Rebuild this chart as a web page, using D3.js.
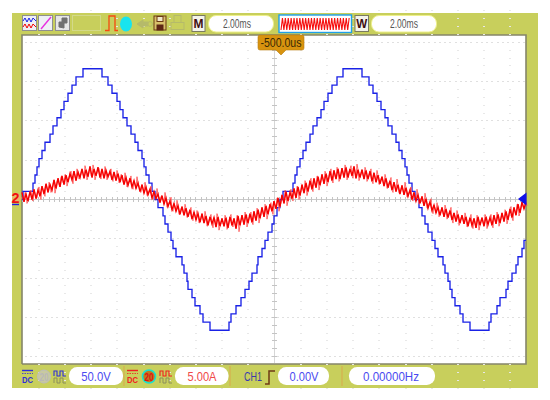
<!DOCTYPE html>
<html><head><meta charset="utf-8">
<script src="https://cdn.jsdelivr.net/npm/d3@7"></script>
<style>html,body{margin:0;padding:0;background:#fff}svg{display:block}text{font-family:"Liberation Sans",Arial,sans-serif}</style>
</head><body><div id="c"></div>
<script>
// Timebase / readout labels
const timebaseLabel = "2.00ms", windowLabel = "2.00ms", triggerOffsetLabel = "-500.0us";
const ch1Scale = "50.0V", ch2Scale = "5.00A", triggerSource = "CH1", triggerLevel = "0.00V", frequency = "0.00000Hz";

// CH1 (volts): staircase, sample column where each level starts and its level
const blueSample = [0,1,11,13,15,17,20,23,28,31,35,39,42,46,50,54,61,80,86,90,95,98,101,105,109,113,116,120,122,124,127,130,133,136,141,143,146,149,151,154,160,162,165,166,170,173,178,181,188,207,209,214,219,223,227,230,235,236,240,243,246,250,252,255,258,261,271,273,275,278,281,284,288,291,295,299,302,306,310,315,321,340,347,351,355,359,363,366,370,374,377,380,383,385,387,390,393,397,400,403,406,410,413,416,421,423,426,428,430,433,438,441,448,467,469,475,478,484,486,490,494,496,500,502,504];
const blueVolts = [0,10.4,20.8,31.2,41.6,52,62.4,72.8,83.2,93.6,104,114.4,124.8,135.2,145.6,156,166.4,156,145.6,135.2,124.8,114.4,104,93.6,83.2,72.8,62.4,52,41.6,31.2,20.8,10.4,0,-10.4,-20.8,-31.2,-41.6,-52,-62.4,-72.8,-83.2,-93.6,-104,-114.4,-124.8,-135.2,-145.6,-156,-166.4,-156,-145.6,-135.2,-124.8,-114.4,-104,-93.6,-83.2,-72.8,-62.4,-52,-41.6,-31.2,-20.8,-10.4,0,10.4,20.8,31.2,41.6,52,62.4,72.8,83.2,93.6,104,114.4,124.8,135.2,145.6,156,166.4,156,145.6,135.2,124.8,114.4,104,93.6,83.2,72.8,62.4,52,41.6,31.2,20.8,10.4,0,-10.4,-20.8,-31.2,-41.6,-52,-62.4,-72.8,-83.2,-93.6,-104,-114.4,-124.8,-135.2,-145.6,-156,-166.4,-156,-145.6,-135.2,-124.8,-114.4,-104,-93.6,-83.2,-72.8,-62.4,-52,-52];

// CH2 (amps): noisy current trace, even and odd sample columns
const redAmpsEven = [
0.9,-0.3,0.7,-0.2,1.0,0.0,1.3,0.1,1.2,0.4,
1.7,0.7,2.0,0.9,1.9,1.2,2.5,1.4,2.7,1.6,
3.0,1.9,3.1,2.2,3.3,2.5,3.6,2.4,3.5,2.8,
3.9,2.7,3.8,2.9,4.2,2.8,3.9,3.0,4.1,2.8,
3.9,2.7,3.7,2.9,3.6,2.5,3.5,2.4,3.3,2.2,
3.1,1.9,2.8,1.8,2.7,1.6,2.4,1.4,2.1,1.0,
1.9,0.8,1.6,0.6,1.3,0.2,1.0,0.1,0.7,-0.4,
0.5,-0.6,0.2,-0.9,-0.2,-1.3,-0.5,-1.5,-0.8,-1.9,
-0.9,-2.0,-1.1,-2.2,-1.3,-2.5,-1.6,-2.6,-1.8,-2.9,
-1.8,-3.0,-2.1,-3.3,-2.2,-3.1,-2.3,-3.5,-2.2,-3.4,
-2.4,-3.4,-2.3,-3.6,-2.2,-3.3,-2.4,-3.7,-2.1,-3.3,
-2.0,-3.2,-1.9,-3.0,-1.8,-2.9,-1.5,-2.7,-1.3,-2.4,
-1.0,-2.2,-0.8,-1.9,-0.6,-1.5,-0.2,-1.2,0.2,-0.9,
0.6,-0.5,1.0,-0.2,0.9,0.1,1.4,0.2,1.6,0.5,
1.9,0.8,2.1,1.0,2.4,1.3,2.7,1.5,2.9,1.8,
3.2,2.0,3.3,2.2,3.6,2.4,3.7,2.6,3.9,2.6,
4.0,2.8,4.1,2.8,3.9,3.0,4.2,2.7,3.8,2.8,
3.8,2.6,3.7,2.6,3.6,2.3,3.4,2.2,3.1,2.0,
2.9,1.7,2.7,1.5,2.4,1.2,2.2,1.0,1.9,0.7,
1.8,0.6,1.5,0.4,1.2,0.0,0.9,-0.2,0.6,-0.5,
0.4,-0.8,0.1,-1.1,-0.3,-1.4,-0.7,-1.7,-1.0,-2.0,
-1.0,-2.2,-1.2,-2.3,-1.4,-2.6,-1.7,-2.8,-1.9,-3.0,
-2.0,-3.1,-2.2,-3.4,-2.3,-3.3,-2.4,-3.6,-2.2,-3.3,
-2.3,-3.4,-2.2,-3.2,-2.3,-3.3,-2.0,-3.1,-1.9,-3.0,
-1.7,-2.8,-1.5,-2.6,-1.2,-2.3,-1.0,-2.0,-0.6,-1.7,
-0.3,-1.2,-0.4];
const redAmpsOdd = [
0.1,0.9,-0.5,0.4,1.2,-0.2,0.8,0.2,1.6,0.0,
1.3,0.4,1.5,2.2,0.9,1.9,0.8,2.3,1.9,2.9,
2.2,3.2,1.7,2.8,3.6,2.0,3.0,3.9,2.6,3.3,
3.3,4.3,2.5,3.6,3.2,4.4,2.5,3.4,4.0,2.6,
3.3,4.2,2.5,3.1,3.9,2.3,3.0,3.7,2.1,3.2,
2.3,3.4,1.6,2.2,3.0,1.3,2.0,2.9,1.7,0.9,
1.4,2.2,0.5,1.1,1.7,0.0,0.6,1.4,-0.2,0.4,
-0.1,0.9,-1.0,-0.4,0.3,-1.5,-0.9,-0.1,-1.9,-1.2,
-1.5,-0.6,-2.3,-1.7,-1.0,-2.7,-2.0,-1.4,-3.0,-2.3,
-2.5,-1.5,-3.4,-2.7,-1.9,-3.6,-2.6,-1.8,-3.9,-2.9,
-2.9,-2.0,-3.8,-2.8,-1.9,-3.5,-3.0,-2.0,-4.1,-2.7,
-2.6,-1.6,-3.5,-2.4,-1.6,-3.2,-2.2,-1.1,-3.0,-1.9,
-1.6,-0.6,-2.5,-1.3,-0.4,-1.9,-0.8,0.2,-1.5,-0.4,
0.1,1.2,-0.8,0.4,1.3,-0.2,0.7,1.7,0.0,1.1,
1.3,2.4,0.5,1.5,2.7,1.0,1.9,3.0,1.2,2.3,
2.6,3.6,1.7,2.8,3.9,2.1,3.1,4.1,2.3,3.2,
3.4,4.4,2.5,3.5,4.3,2.7,3.6,4.5,2.4,3.3,
3.2,4.1,2.3,3.1,3.9,2.0,2.9,3.7,1.9,2.6,
2.3,3.2,1.4,2.1,2.8,0.9,1.7,2.6,0.8,1.3,
1.2,2.2,0.3,0.9,1.6,-0.2,0.4,1.3,-0.6,0.1,
-0.2,0.8,-1.1,-0.5,0.1,-1.8,-1.1,-0.4,-2.2,-1.5,
-1.6,-0.7,-2.5,-1.8,-1.0,-3.0,-2.2,-1.4,-3.3,-2.4,
-2.5,-1.7,-3.5,-2.8,-1.9,-3.7,-2.9,-2.0,-3.9,-2.7,
-2.8,-1.9,-3.7,-2.7,-1.9,-3.6,-2.6,-1.6,-3.4,-2.4,
-2.2,-1.3,-3.1,-2.0,-0.9,-2.7,-1.5,-0.6,-2.1,-1.1,
-0.9,0.0,-0.8];
const redAmps = redAmpsEven.flatMap((v,i)=>[v,redAmpsOdd[i]]);

const svg = d3.select("#c").append("svg").attr("width",550).attr("height",400);
const olive = "#c8cf5c";
const P = {l:22,r:526,t:35,b:364};
const x = d3.scaleLinear().domain([0,504]).range([P.l,P.r]);
const yV = d3.scaleLinear().domain([-200,200]).range([199.5+157.2,199.5-157.2]);
const yA = d3.scaleLinear().domain([-20,20]).range([199.5+157.2,199.5-157.2]);

// panel
svg.append("rect").attr("x",12).attr("y",13).attr("width",526).attr("height",375).attr("fill",olive);
svg.append("rect").attr("x",P.l,).attr("y",P.t).attr("width",P.r-P.l).attr("height",P.b-P.t).attr("fill","#fff");
svg.append("path").attr("d",`M${P.l},${P.b}V${P.t}H${P.r}V${P.b}H${P.l}`).attr("fill","none").attr("stroke","#85856a").attr("stroke-width",1.6);

// grid
const cx = 274.5, cy = 199.5, dx = 26.2, dy = 39.3;
const rows = d3.range(-4,5).map(k=>cy+k*dy), cols = d3.range(-9,10).map(k=>cx+k*dx);
const g = svg.append("g");
const dot = (px,py,c,w=1,h=1)=>g.append("rect").attr("x",Math.round(px-w/2)).attr("y",Math.round(py-h/2)).attr("width",w).attr("height",h).attr("fill",c);
rows.forEach(r=>{ if(r===cy) return;
  d3.range(P.l+4,P.r-2,5.24).forEach(px=>dot(px,r,"#e0e0e0",2,1));
});
cols.forEach(c=>{ if(c===cx) return;
  d3.range(-24,25).forEach(k=>{ if(k%5!==0) dot(c,cy+k*dy/5,"#e8e8e8",2,1); });
});
// centre axes with ticks
g.append("line").attr("x1",P.l+1).attr("x2",P.r).attr("y1",cy).attr("y2",cy).attr("stroke","#cacaca").attr("stroke-width",1);
g.append("line").attr("x1",cx).attr("x2",cx).attr("y1",P.t+1).attr("y2",P.b-1).attr("stroke","#d6d6d6").attr("stroke-width",1);
d3.range(-48,49).forEach(k=>{const px=cx+k*dx/5; if(px>P.l&&px<P.r) dot(px,cy,"#c4c4c4",1,5);});
d3.range(-20,21).forEach(k=>{const py=cy+k*dy/5; if(py>P.t&&py<P.b) dot(cx,py,"#c4c4c4",5,1);});

// traces
const blueLine = d3.line().x(d=>x(d[0])).y(d=>yV(d[1])).curve(d3.curveStepAfter);
const blueData = blueSample.map((s,i)=>[s,blueVolts[i]]);
svg.append("path").attr("d",blueLine(blueData)).attr("fill","none").attr("stroke","#1a22e6").attr("stroke-width",1.35);
const redMerged = d3.line().x((d,i)=>x(i)).y(d=>yA(d));
const redEven = d3.line().x((d,i)=>x(i*2)).y(d=>yA(d));
svg.append("path").attr("d",redMerged(redAmps)).attr("fill","none").attr("stroke","#ff5a5a").attr("stroke-width",0.9);
svg.append("path").attr("d",redEven(redAmpsEven)).attr("fill","none").attr("stroke","#f50000").attr("stroke-width",1.4);

// text helper
function label(t,xc,yb,size,len,col,anchor="middle",w=400){
  return svg.append("text").attr("x",xc).attr("y",yb).attr("text-anchor",anchor).attr("font-size",size).attr("font-weight",w)
    .attr("fill",col).attr("textLength",len).attr("lengthAdjust","spacingAndGlyphs").text(t);
}
function pill(x0,y0,w,h,stroke){
  svg.append("rect").attr("x",x0).attr("y",y0).attr("width",w).attr("height",h).attr("rx",h/2.2).attr("fill","#fff").attr("stroke",stroke||"none").attr("stroke-width",1);
}
const sep = xp=>svg.append("line").attr("x1",xp).attr("x2",xp).attr("y1",366).attr("y2",386).attr("stroke","#d9a94a").attr("stroke-width",1);
const p = (d,c,w=1.2,f="none")=>svg.append("path").attr("d",d).attr("stroke",c).attr("stroke-width",w).attr("fill",f);
const box = (x0,y0,w,h,f,s)=>svg.append("rect").attr("x",x0).attr("y",y0).attr("width",w).attr("height",h).attr("fill",f).attr("stroke",s).attr("stroke-width",1);

// top toolbar
box(22.5,15.5,14,15,"#eef0f6","#8f8f8f");
p("M23,21 L25,18 L27,22 L29,18 L31,22 L33,18 L36,21","#1a22e6",1);
p("M23,27 L25,24 L27,28 L29,24 L31,28 L33,24 L36,27","#f30000",1);
box(38.5,15.5,14,15,"#eef0f6","#8f8f8f");
p("M41,29 L51,17","#e830e0",1.4);
box(55.5,15.5,14,15,"#e6e6e6","#8f8f8f");
p("M59,27 L59,22 L62,22 L62,18 L67,18 L67,23 L64,23 L64,28 Z","#707070",1,"#707070");
box(72.5,15.5,28,15,"#c8cf5c","#d3d98a");
p("M105,30.5 H109 V16 H115 V30.5 H118","#f54a10",1.3);
svg.append("ellipse").attr("cx",126).attr("cy",24).attr("rx",6).attr("ry",7.5).attr("fill","#19e4ee");
p("M137,24 L143,20 V22 H148 V26 H143 V28 Z","#b5ba6a",1,"#b5ba6a");
svg.append("circle").attr("cx",150).attr("cy",24).attr("r",2.4).attr("fill","none").attr("stroke","#b5ba6a");
box(154,16,12,14,"#d8c06a","#6d3b14");
box(157,16.5,6,5,"#efe8c8","#6d3b14");
box(157,25,6,5,"#5d2614","#5d2614");
box(174,15.5,7,7,"#c8cf5c","#b5ba6a");
box(171,22.5,13,7,"#c8cf5c","#b5ba6a");
box(192,15.5,13,16,"#f4f4ea","#7a7a60");
label("M",198.5,28,13,10,"#3e0d10","middle",700);
pill(208.5,15.5,65,16.5,"#eef08c");
label(timebaseLabel,237,28,12.5,28,"#555");
svg.append("rect").attr("x",279).attr("y",15).attr("width",72.5).attr("height",17.5).attr("fill","#fff").attr("stroke","#1ea0e8").attr("stroke-width",1.4);
const zig = d3.range(0,48).map(i=>`${i?"L":"M"}${281+i*1.45},${i%2?18:30}`).join("");
p(zig,"#f61010",1.1);
box(355,15.5,13.5,16,"#f4f4ea","#7a7a60");
label("W",361.8,28,12.5,11,"#3e0d10","middle",700);
pill(371.5,15.5,65,16.5,"#eef08c");
label(windowLabel,404,28,12.5,28,"#555");

// bottom bar
const dcIcon=(x0,c)=>{
  p(`M${x0},370.5 H${x0+11}`,c,1.4);
  p(`M${x0},373.5 H${x0+11}`,c,.8).attr("stroke-dasharray","1.5 1");
  label("DC",x0+5.5,383,9.5,11,c,"middle",700);
};
const waveIcon=(x0,c)=>{
  p(`M${x0},376 V371 H${x0+3} V376 H${x0+6} V371 H${x0+9} V376 H${x0+12}`,c,1.1);
  p(`M${x0},383 V378 H${x0+3} V383 H${x0+6} V378 H${x0+9} V383 H${x0+12}`,"#8b8e5c",1);
};
dcIcon(22,"#2f2fd8");
svg.append("circle").attr("cx",44).attr("cy",376.5).attr("r",6.5).attr("fill","#c8c9a0").attr("stroke","#bdbdbd");
label("20",44,380.5,10,9,"#b8b8b8","middle",700);
waveIcon(54,"#2f2fd8");
pill(69,367,54,18);
label(ch1Scale,96,381,13.5,29.5,"#4a4af0");
sep(124);
dcIcon(127,"#f02020");
svg.append("circle").attr("cx",149).attr("cy",376.5).attr("r",6.5).attr("fill","#c07a20").attr("stroke","#18e0d0").attr("stroke-width",1.6);
label("20",149,380.5,10,9,"#e01010","middle",700);
waveIcon(160,"#f02020");
pill(175,367,53.5,18);
label(ch2Scale,202,381,13.5,29,"#f04848");
sep(230);
label(triggerSource,253,381,12.5,18,"#3a3aa8");
p("M265,384 H269 V371 H275","#6d3b14",1.5);
pill(278,367,51,18);
label(triggerLevel,304,381,13,29,"#4a4af0");
sep(342);
pill(349,367,86,18);
label(frequency,391,381,13,56,"#4a4af0");

// markers
svg.append("path").attr("d","M258,37 Q258,35 260,35 H302 Q304,35 304,37 V48 Q304,50 302,50 H286 L281,55 L276,50 H260 Q258,50 258,48 Z").attr("fill","#d8930f").attr("stroke","#b97d10").attr("stroke-width",.6);
label(triggerOffsetLabel,281,47,12.5,41,"#3a2a05");
svg.append("path").attr("d","M526.5,192.5 L518,199 L526.5,205.5 Z").attr("fill","#1010e8");
svg.append("path").attr("d","M22,198 L18,193 H12 V203 H18 Z").attr("fill","#f2b070").attr("opacity",.7);
label("2",15.5,203,14,8,"#f01010","middle",700);
p("M12,204.5 H19","#2222e0",1.4);
</script></body></html>
